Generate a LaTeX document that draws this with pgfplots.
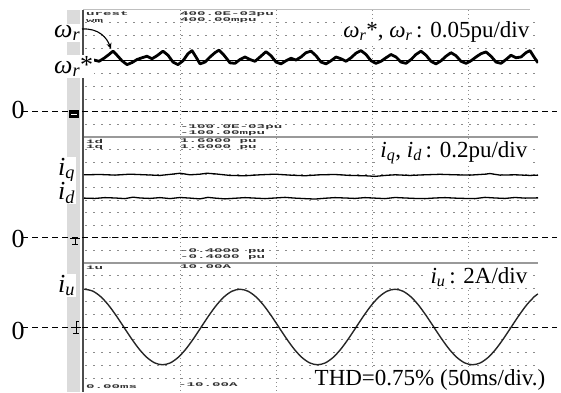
\documentclass[border=0pt]{standalone}
\usepackage{pgfplots}
\pgfplotsset{compat=1.18}
\usepackage{fontspec}
\setmainfont{Liberation Serif}
\setmonofont{Liberation Mono}
\usetikzlibrary{arrows.meta}
\newcommand{\wrr}{\textit{ω}\textsubscript{\textit{r}}}
\newcommand{\ii}[1]{\textit{i}\textsubscript{\textit{#1}}}
\newcommand{\scopetxt}[1]{\scalebox{1.05}[0.42]{\fontsize{13.5}{13.5}\selectfont\ttfamily\bfseries #1}}
\newcommand{\bigf}{\fontsize{26}{28}\selectfont}
\newcommand{\medf}{\fontsize{23}{25}\selectfont}
\definecolor{stripgray}{gray}{0.86}
\definecolor{griddot}{gray}{0.55}
\pgfplotsset{panel/.style={hide axis, scale only axis, width=455pt, xmin=83, xmax=538, anchor=south west}}
\begin{document}
\begin{tikzpicture}[x=1pt,y=1pt]
\path[use as bounding box] (0,0) rectangle (561,392);
\begin{scope}[shift={(0,392)},yscale=-1]
  \fill[stripgray] (67,10) rectangle (80,392);
  \foreach \k in {1,...,9}{
    \draw[griddot, line width=0.8pt, dash pattern=on 2pt off 6pt] (85,10+12.7*\k) -- (538,10+12.7*\k);
    \draw[griddot, line width=0.8pt, dash pattern=on 2pt off 6pt] (85,137+12.6*\k) -- (538,137+12.6*\k);
    \draw[griddot, line width=0.8pt, dash pattern=on 2pt off 6pt] (85,263+12.8*\k) -- (538,263+12.8*\k);
  }
  \foreach \x in {180,276,372,468}{
    \draw[griddot, line width=0.8pt, dash pattern=on 1pt off 3pt] (\x,10) -- (\x,391);
  }
  \draw[gray!50, line width=1pt] (83,10) -- (530,10);
  \draw[gray!80, line width=1.5pt] (83,137) -- (538,137);
  \draw[gray!80, line width=1.5pt] (83,263) -- (538,263);
  \draw[black!70, line width=2pt] (83,10) -- (83,392);
  % ground markers
  \fill[black] (69,110) rectangle (79,118);
  \draw[white, line width=0.8pt] (71,114) -- (77,114);
  \draw[black, line width=1pt] (70,238) -- (80,238) (75,238) -- (75,244) (72,244) -- (78,244);
  \draw[black, line width=1pt] (71,327) -- (81,327) (76,327) -- (76,333) (73,333) -- (79,333) (76,321) -- (76,327) (76,321) -- (79,321);
\end{scope}

% ---- panel 1: omega_r*, omega_r (pu)
\begin{axis}[panel, at={(83pt,255pt)}, height=127pt, ymin=-0.1, ymax=0.4]
\addplot[black, line width=0.8pt] coordinates {(83,0.2) (538,0.2)};
\addplot[black, line width=2.8pt, line join=round] coordinates {
(84,0.200) (89,0.195) (94,0.203) (99,0.198) (104,0.210) (109,0.225) (113,0.238) (117,0.222)
(122,0.200) (127,0.185) (132,0.193) (137,0.205) (142,0.212) (147,0.218) (152,0.208) (157,0.220)
(163,0.238) (168,0.222) (173,0.195) (178,0.185) (183,0.200) (188,0.228) (192,0.240) (196,0.215)
(200,0.188) (205,0.195) (210,0.215) (215,0.232) (219,0.242) (224,0.222) (230,0.192) (235,0.190)
(240,0.205) (245,0.215) (250,0.205) (255,0.198) (260,0.215) (266,0.236) (271,0.220) (276,0.195)
(281,0.188) (286,0.200) (291,0.210) (296,0.203) (301,0.215) (306,0.232) (311,0.238) (316,0.220)
(321,0.195) (326,0.188) (331,0.200) (336,0.215) (341,0.208) (346,0.198) (351,0.212) (356,0.230)
(361,0.240) (366,0.225) (371,0.200) (376,0.190) (381,0.198) (386,0.212) (391,0.225) (396,0.215)
(401,0.195) (406,0.190) (411,0.205) (416,0.225) (421,0.238) (426,0.222) (431,0.198) (436,0.188)
(441,0.200) (446,0.218) (451,0.232) (456,0.220) (461,0.198) (466,0.190) (471,0.200) (476,0.215)
(481,0.228) (486,0.235) (491,0.218) (496,0.195) (501,0.190) (506,0.205) (511,0.222) (516,0.212)
(521,0.215) (526,0.232) (530,0.240) (534,0.215) (538,0.192)};
\end{axis}

% ---- panel 2: i_q, i_d (pu)
\begin{axis}[panel, at={(83pt,129pt)}, height=126pt, ymin=-0.4, ymax=1.6]
\addplot[black, line width=1.3pt] coordinates {
(84,1.000) (100,1.005) (115,0.995) (130,1.010) (145,1.000) (160,0.990) (172,1.010) (180,1.025)
(190,1.000) (200,1.010) (207,1.025) (215,1.015) (230,0.990) (245,0.985) (260,1.000) (275,1.010)
(290,0.995) (305,0.985) (320,1.000) (335,1.005) (350,0.990) (365,0.985) (375,0.975) (385,0.990)
(395,1.000) (410,0.990) (425,1.000) (440,1.008) (455,1.000) (470,0.995) (485,1.010) (490,1.020)
(500,0.995) (515,1.000) (530,0.990) (538,0.995)};
\addplot[black, line width=1.3pt] coordinates {
(84,0.630) (95,0.625) (105,0.638) (115,0.632) (125,0.622) (133,0.645) (140,0.632) (150,0.625)
(160,0.638) (170,0.622) (180,0.640) (190,0.630) (200,0.618) (208,0.642) (215,0.630) (225,0.618)
(235,0.628) (245,0.638) (255,0.630) (265,0.622) (275,0.632) (285,0.642) (295,0.630) (305,0.622)
(315,0.615) (325,0.628) (335,0.638) (345,0.632) (355,0.625) (365,0.638) (375,0.630) (385,0.622)
(395,0.640) (405,0.632) (415,0.625) (425,0.622) (435,0.632) (445,0.638) (455,0.630) (465,0.625)
(475,0.622) (485,0.642) (495,0.632) (505,0.625) (515,0.640) (525,0.630) (538,0.634)};
\end{axis}

% ---- panel 3: i_u (A)
\begin{axis}[panel, at={(83pt,1pt)}, height=128pt, ymin=-10, ymax=10]
\addplot[black!85, line width=1.4pt, smooth] coordinates {
(84,5.90) (85,5.90) (92.75,5.61) (100.5,4.77) (108.25,3.47) (116,1.82) (123.75,0) (131.5,-1.82)
(139.25,-3.47) (147,-4.77) (154.75,-5.61) (162.5,-5.90) (170.25,-5.61) (178,-4.77) (185.75,-3.47)
(193.5,-1.82) (201.25,0) (209,1.82) (216.75,3.47) (224.5,4.77) (232.25,5.61) (240,5.90)
(247.75,5.61) (255.5,4.77) (263.25,3.47) (271,1.82) (278.75,0) (286.5,-1.82) (294.25,-3.47)
(302,-4.77) (309.75,-5.61) (317.5,-5.90) (325.25,-5.61) (333,-4.77) (340.75,-3.47) (348.5,-1.82)
(356.25,0) (364,1.82) (371.75,3.47) (379.5,4.77) (387.25,5.61) (395,5.90) (402.75,5.61)
(410.5,4.77) (418.25,3.47) (426,1.82) (433.75,0) (441.5,-1.82) (449.25,-3.47) (457,-4.77)
(464.75,-5.61) (472.5,-5.90) (480.25,-5.61) (488,-4.77) (495.75,-3.47) (503.5,-1.82) (511.25,0)
(519,1.82) (526.75,3.47) (534.5,4.77) (538,5.16)};
\end{axis}

\begin{scope}[shift={(0,392)},yscale=-1]
  % zero reference lines
  \foreach \yy in {111.6,237.8,327}{
    \draw[black, line width=1pt, dash pattern=on 6pt off 4pt] (22,\yy) -- (557,\yy);
  }
  % scope texts
  \begin{scope}[every node/.style={inner sep=0pt, anchor=west, text=black!80}]
    \node at (86,14) {\scopetxt{urest}};
    \node at (86,20.5) {\scopetxt{wm}};
    \node at (180,14) {\scopetxt{400.0E-03pu}};
    \node at (180,20.5) {\scopetxt{400.00mpu}};
    \node at (180,127.5) {\scopetxt{-100.0E-03pu}};
    \node at (180,133.5) {\scopetxt{-100.00mpu}};
    \node at (86,141) {\scopetxt{id}};
    \node at (86,147.5) {\scopetxt{iq}};
    \node at (180,141) {\scopetxt{1.6000 pu}};
    \node at (180,147.5) {\scopetxt{1.6000 pu}};
    \node at (180,251.5) {\scopetxt{-0.4000 pu}};
    \node at (180,257.5) {\scopetxt{-0.4000 pu}};
    \node at (86,267) {\scopetxt{iu}};
    \node at (180,267) {\scopetxt{10.00A}};
    \node at (86,387) {\scopetxt{0.00ms}};
    \node at (178,385) {\scopetxt{-10.00A}};
  \end{scope}
  % left labels
  \begin{scope}[every node/.style={fill=white, inner sep=1pt, anchor=base west}]
    \node at (53,37) {\bigf\wrr};
    \node at (53,73) {\bigf\wrr*};
    \node at (57,175) {\bigf\ii{q}};
    \node at (57,199) {\bigf\ii{d}};
    \node at (57,292) {\bigf\ii{u}};
  \end{scope}
  \begin{scope}[every node/.style={inner sep=0.5pt, anchor=west}]
    \node at (11,110) {\bigf 0};
    \node at (11,239) {\bigf 0};
    \node at (11,331) {\bigf 0};
  \end{scope}
  \draw[black, line width=1.1pt, -{Stealth[length=6pt,width=5pt]}] (82,29) .. controls (99,28) and (107,38) .. (111,49);
  % right labels
  \begin{scope}[every node/.style={fill=white, inner sep=1.5pt, anchor=base east}]
    \node at (531,37) {\medf\wrr*, \wrr\,: 0.05pu/div};
    \node at (529,157) {\medf\ii{q}, \ii{d}\,: 0.2pu/div};
    \node at (529,283) {\medf\ii{u}\,: 2A/div};
    \node at (547,385) {\medf THD=0.75\% (50ms/div.)};
  \end{scope}
\end{scope}
\end{tikzpicture}
\end{document}
